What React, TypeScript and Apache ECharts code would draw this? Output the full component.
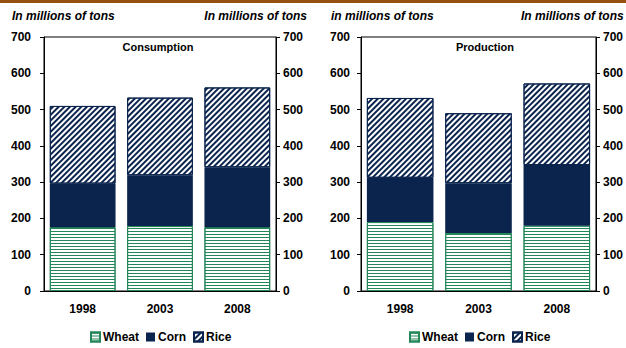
import React, { useEffect, useRef } from "react";
import * as echarts from "echarts";

const years = ["1998", "2003", "2008"];
const seriesNames = ["Wheat", "Corn", "Rice"];
const consWheat = [176, 179, 176];
const consCorn = [120, 140, 165];
const consRice = [214, 214, 220];
const prodWheat = [190, 160, 180];
const prodCorn = [122, 137, 167];
const prodRice = [220, 193, 225];
const yTicks = [0, 100, 200, 300, 400, 500, 600, 700];

const FONT = "Liberation Sans, Arial, sans-serif";
const GREEN = "#24875a";
const NAVY = "#0b244e";

export default function App() {
  const ref = useRef<HTMLDivElement>(null);
  useEffect(() => {
    if (!ref.current) return;
    const chart = echarts.init(ref.current, undefined, { renderer: "svg" });
    const yMax = yTicks[yTicks.length - 1];
    const lbl = { color: "#000", fontFamily: FONT, fontWeight: "bold" as const, fontSize: 12 };
    const mkY = (grid: number, pos: "left" | "right", margin: number) => ({
      type: "value",
      gridIndex: grid,
      position: pos,
      min: 0,
      max: yMax,
      interval: 100,
      axisLine: { show: true, lineStyle: { color: "#000", width: 1 } },
      axisTick: { show: true, length: 4, lineStyle: { color: "#000" } },
      splitLine: { show: false },
      axisLabel: { ...lbl, margin },
    });
    const mkX = (grid: number) => ({
      type: "category",
      gridIndex: grid,
      data: years,
      axisLine: { show: true, lineStyle: { color: "#000", width: 1 } },
      axisTick: { show: false },
      axisLabel: { ...lbl, margin: 12 },
    });
    const wheatStyle = {
      color: "#ffffff",
      borderColor: GREEN,
      borderWidth: 1,
      decal: {
        symbol: "rect",
        symbolSize: 1,
        color: GREEN,
        dashArrayX: [1, 0],
        dashArrayY: [1, 2],
        rotation: 0,
      },
    };
    const cornStyle = { color: NAVY, borderColor: NAVY, borderWidth: 0 };
    const riceStyle = {
      color: "#ffffff",
      borderColor: NAVY,
      borderWidth: 1,
      decal: {
        symbol: "rect",
        symbolSize: 1,
        color: NAVY,
        dashArrayX: [1, 0],
        dashArrayY: [1.5, 1.5],
        rotation: -Math.PI / 4,
      },
    };
    const styles = [wheatStyle, cornStyle, riceStyle];
    const mkSeries = (grid: number, stack: string, data: number[][]) =>
      data.map((d, i) => ({
        name: seriesNames[i],
        type: "bar",
        stack,
        xAxisIndex: grid,
        yAxisIndex: grid * 2,
        barWidth: "85%",
        data: d,
        itemStyle: styles[i],
      }));
    const legendCommon = {
      data: seriesNames,
      icon: "rect",
      itemWidth: 9,
      itemHeight: 9,
      itemGap: 7,
      padding: 0,
      top: 331,
      selectedMode: false,
      textStyle: { color: "#000", fontFamily: FONT, fontWeight: "bold", fontSize: 12, padding: [0, 0, 0, -2] },
    };
    const hdr = { fontFamily: FONT, fontWeight: "bold", fontStyle: "italic", fontSize: 12, fill: "#000" };
    chart.setOption({
      animation: false,
      grid: [
        { left: 44, top: 37, width: 232, height: 254, show: true, borderColor: "#000", borderWidth: 1 },
        { left: 361, top: 37, width: 237, height: 254, show: true, borderColor: "#000", borderWidth: 1 },
      ],
      xAxis: [mkX(0), mkX(1)],
      yAxis: [mkY(0, "left", 13), mkY(0, "right", 7), mkY(1, "left", 11), mkY(1, "right", 7)],
      legend: [
        { ...legendCommon, left: 90 },
        { ...legendCommon, left: 409 },
      ],
      series: [
        ...mkSeries(0, "cons", [consWheat, consCorn, consRice]),
        ...mkSeries(1, "prod", [prodWheat, prodCorn, prodRice]),
      ],
      graphic: [
        { type: "rect", shape: { x: 0, y: 0, width: 626, height: 3 }, style: { fill: "#94500f" } },
        { type: "text", x: 12, y: 16, style: { ...hdr, text: "In millions of tons", textAlign: "left", textVerticalAlign: "middle" } },
        { type: "text", x: 307, y: 16, style: { ...hdr, text: "In millions of tons", textAlign: "right", textVerticalAlign: "middle" } },
        { type: "text", x: 331, y: 16, style: { ...hdr, text: "in millions of tons", textAlign: "left", textVerticalAlign: "middle" } },
        { type: "text", x: 521, y: 16, style: { ...hdr, text: "In millions of tons", textAlign: "left", textVerticalAlign: "middle" } },
        { type: "text", x: 158, y: 47, style: { fontFamily: FONT, fontWeight: "bold", fontSize: 11, fill: "#000", text: "Consumption", textAlign: "center", textVerticalAlign: "middle" } },
        { type: "text", x: 485, y: 47, style: { fontFamily: FONT, fontWeight: "bold", fontSize: 11, fill: "#000", text: "Production", textAlign: "center", textVerticalAlign: "middle" } },
      ],
    });
    return () => chart.dispose();
  }, []);
  return (
    <div
      ref={ref}
      style={{ position: "absolute", left: 0, top: 0, width: 626, height: 348, background: "#fff" }}
    />
  );
}
